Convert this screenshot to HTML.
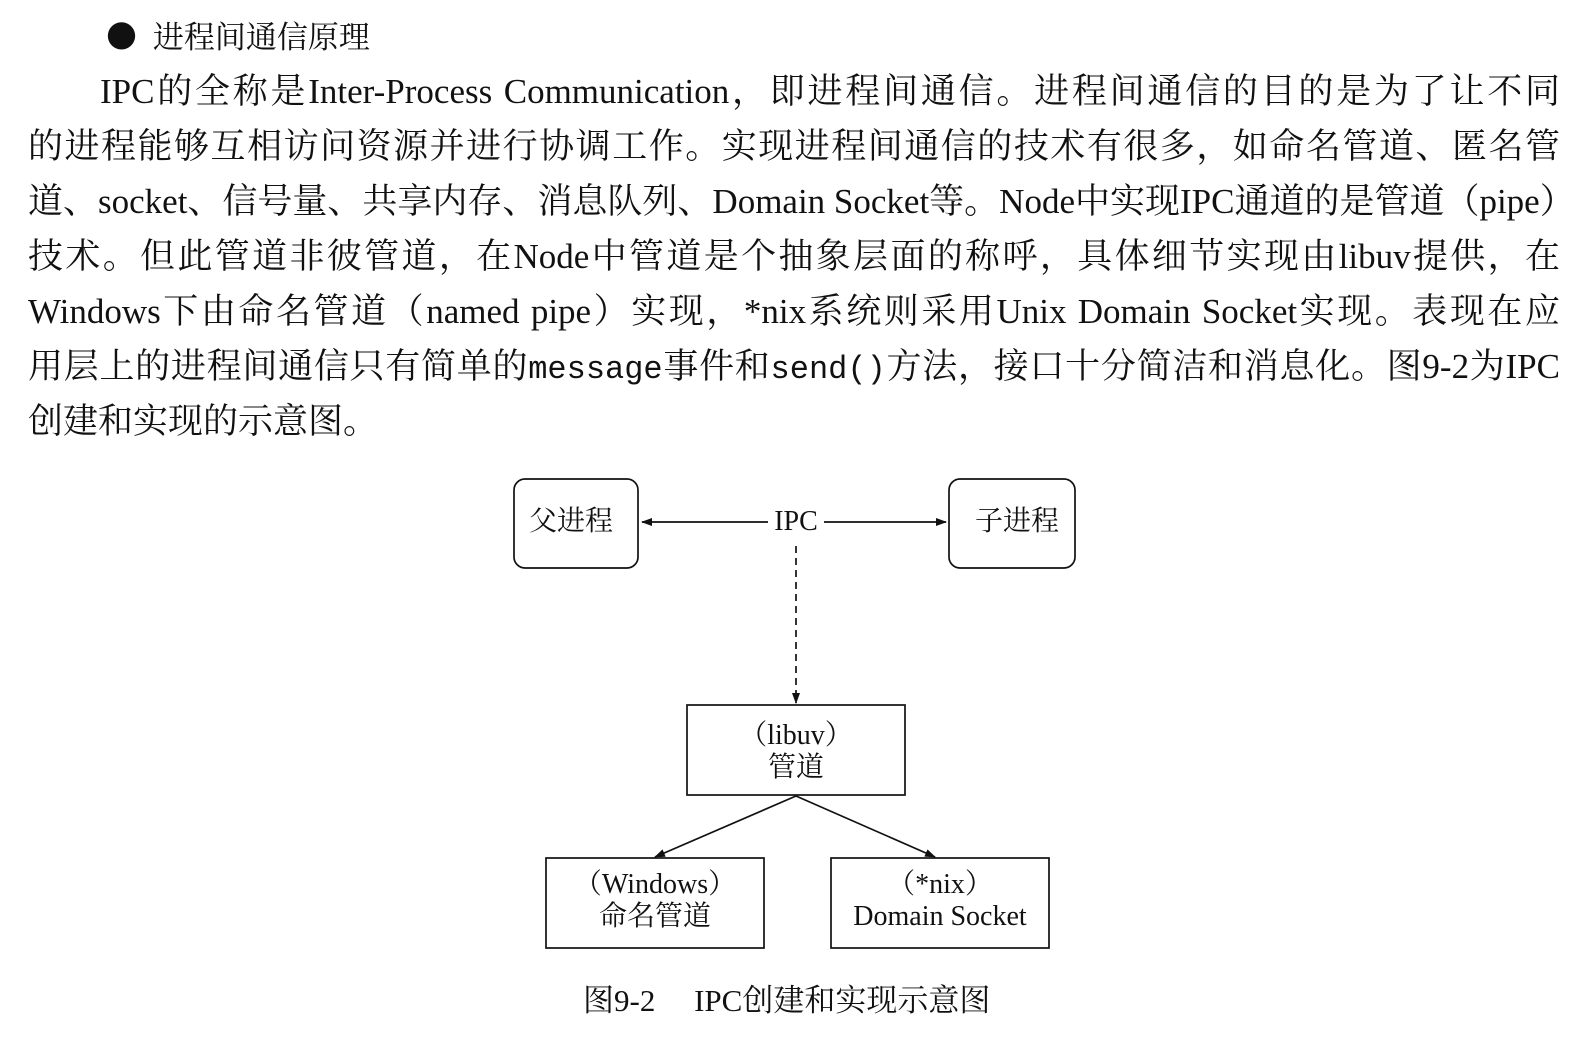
<!DOCTYPE html>
<html><head><meta charset="utf-8"><style>
body{margin:0;background:#fff;width:1572px;height:1042px;position:relative;overflow:hidden;font-family:"Liberation Serif","Noto Serif CJK SC",serif;color:#111}
.l{position:absolute;left:28px;width:1532px;font-size:35px;line-height:40px;text-align:justify;text-align-last:justify;white-space:nowrap}
.l.n{text-align-last:left}
.m{font-family:"Liberation Mono",monospace;font-size:32px}
.t{position:absolute;font-size:28px;line-height:32px;text-align:center}
</style></head><body>
<div style="position:absolute;left:106px;top:16px;font-size:31px;line-height:38px;font-family:'Noto Serif CJK SC',serif">●&nbsp;&nbsp;进程间通信原理</div>
<div class="l" style="top:72px;left:100px;width:1460px">IPC的全称是Inter-Process Communication，即进程间通信。进程间通信的目的是为了让不同</div>
<div class="l" style="top:127px">的进程能够互相访问资源并进行协调工作。实现进程间通信的技术有很多，如命名管道、匿名管</div>
<div class="l" style="top:182px">道、socket、信号量、共享内存、消息队列、Domain Socket等。Node中实现IPC通道的是管道（pipe）</div>
<div class="l" style="top:237px">技术。但此管道非彼管道，在Node中管道是个抽象层面的称呼，具体细节实现由libuv提供，在</div>
<div class="l" style="top:292px">Windows下由命名管道（named pipe）实现，*nix系统则采用Unix Domain Socket实现。表现在应</div>
<div class="l" style="top:347px">用层上的进程间通信只有简单的<span class="m">message</span>事件和<span class="m">send()</span>方法，接口十分简洁和消息化。图9-2为IPC</div>
<div class="l n" style="top:402px">创建和实现的示意图。</div>
<svg style="position:absolute;left:0;top:0" width="1572" height="1042">
<defs><marker id="a" markerWidth="11" markerHeight="8" refX="10" refY="4" orient="auto" markerUnits="userSpaceOnUse"><path d="M0,0L11,4L0,8z" fill="#111"/></marker></defs>
<g fill="none" stroke="#111" stroke-width="1.7">
<rect x="514" y="479" width="124" height="89" rx="11"/>
<rect x="949" y="479" width="126" height="89" rx="11"/>
<rect x="687" y="705" width="218" height="90"/>
<rect x="546" y="858" width="218" height="90"/>
<rect x="831" y="858" width="218" height="90"/>
<line x1="770" y1="522" x2="642" y2="522" marker-end="url(#a)"/>
<line x1="822" y1="522" x2="946" y2="522" marker-end="url(#a)"/>
<line x1="796" y1="546" x2="796" y2="703" stroke-dasharray="7,5" marker-end="url(#a)"/>
<line x1="796" y1="796" x2="655" y2="857" marker-end="url(#a)"/>
<line x1="796" y1="796" x2="935" y2="857" marker-end="url(#a)"/>
</g></svg>
<div class="t" style="left:514px;top:506px;width:114px">父进程</div>
<div class="t" style="left:959px;top:506px;width:116px">子进程</div>
<div class="t" style="left:768px;top:506px;width:56px;background:#fff">IPC</div>
<div class="t" style="left:687px;top:720px;width:218px">（libuv）<br>管道</div>
<div class="t" style="left:546px;top:869px;width:218px">（Windows）<br>命名管道</div>
<div class="t" style="left:831px;top:869px;width:218px">（*nix）<br>Domain Socket</div>
<div class="t" style="left:583px;top:983px;font-size:31px;line-height:36px;text-align:left;white-space:pre">图9-2　 IPC创建和实现示意图</div>
</body></html>
